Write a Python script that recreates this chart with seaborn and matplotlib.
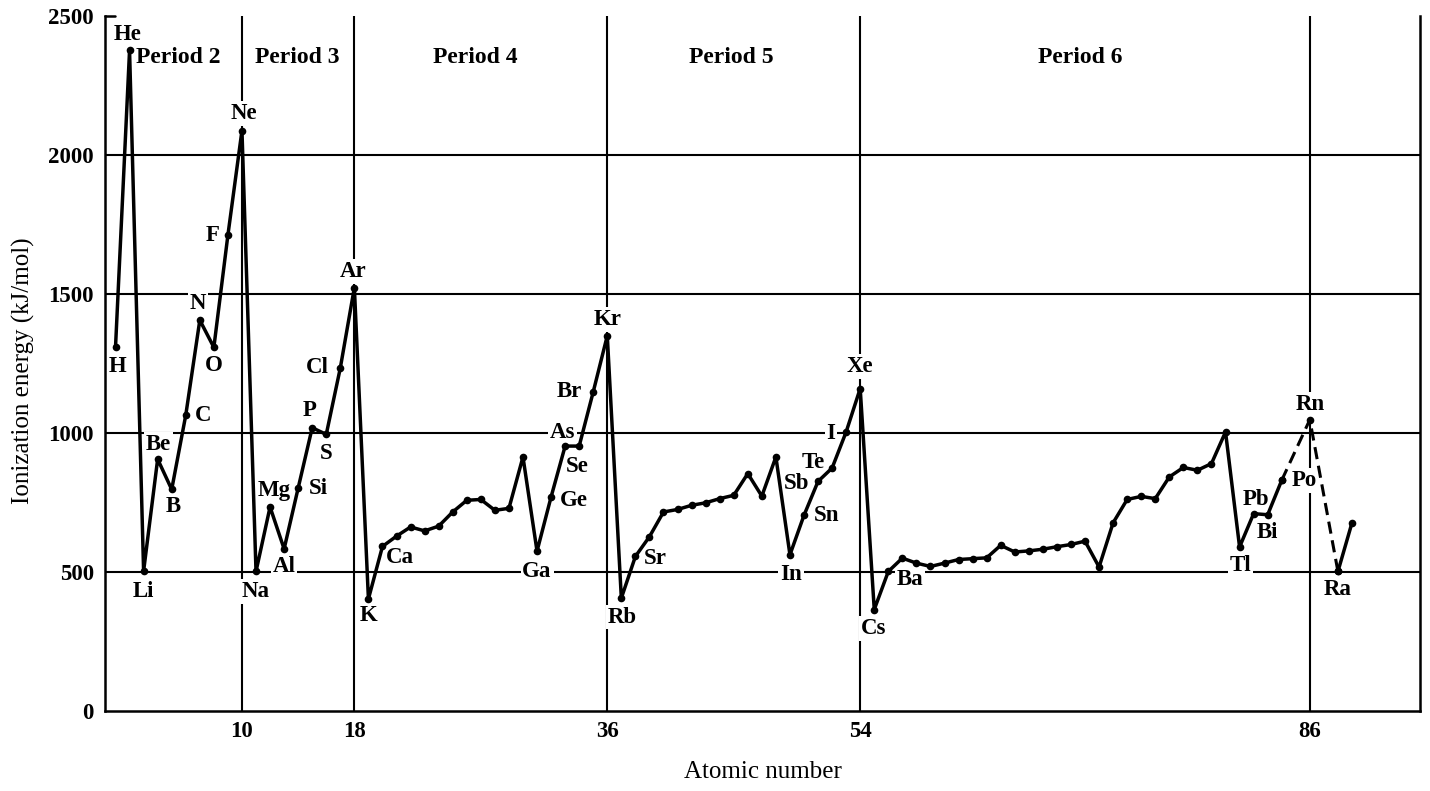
import pandas as pd
import matplotlib.pyplot as plt
import seaborn as sns

# Values (kJ/mol)
atomic_number = [1, 2, 3, 4, 5, 6, 7, 8, 9, 10,
                 11, 12, 13, 14, 15, 16, 17, 18,
                 19, 20, 21, 22, 23, 24, 25, 26, 27, 28, 29, 30, 31, 32, 33, 34, 35, 36,
                 37, 38, 39, 40, 41, 42, 43, 44, 45, 46, 47, 48, 49, 50, 51, 52, 53, 54,
                 55, 56, 57, 58, 59, 60, 61, 62, 63, 64, 65, 66, 67, 68, 69, 70, 71,
                 72, 73, 74, 75, 76, 77, 78, 79, 80, 81, 82, 83, 84, 86, 88, 89]
symbols = ['H', 'He', 'Li', 'Be', 'B', 'C', 'N', 'O', 'F', 'Ne',
           'Na', 'Mg', 'Al', 'Si', 'P', 'S', 'Cl', 'Ar',
           'K', 'Ca', 'Sc', 'Ti', 'V', 'Cr', 'Mn', 'Fe', 'Co', 'Ni', 'Cu', 'Zn', 'Ga', 'Ge', 'As', 'Se', 'Br', 'Kr',
           'Rb', 'Sr', 'Y', 'Zr', 'Nb', 'Mo', 'Tc', 'Ru', 'Rh', 'Pd', 'Ag', 'Cd', 'In', 'Sn', 'Sb', 'Te', 'I', 'Xe',
           'Cs', 'Ba', 'La', 'Ce', 'Pr', 'Nd', 'Pm', 'Sm', 'Eu', 'Gd', 'Tb', 'Dy', 'Ho', 'Er', 'Tm', 'Yb', 'Lu',
           'Hf', 'Ta', 'W', 'Re', 'Os', 'Ir', 'Pt', 'Au', 'Hg', 'Tl', 'Pb', 'Bi', 'Po', 'Rn', 'Ra', 'Ac']
ionization_energy = [1308, 2376, 503, 906, 797, 1064, 1406, 1308, 1712, 2088,
                     502, 734, 583, 802, 1019, 995, 1234, 1523,
                     403, 592, 629, 662, 648, 665, 716, 758, 761, 722, 729, 914, 575, 770, 953, 953, 1148, 1350,
                     406, 556, 627, 716, 725, 740, 749, 764, 776, 854, 773, 914, 562, 704, 826, 874, 1004, 1160,
                     365, 502, 550, 532, 520, 532, 545, 548, 551, 596, 572, 576, 582, 591, 599, 611, 518,
                     677, 761, 772, 764, 842, 876, 866, 890, 1004, 590, 710, 706, 830, 1048, 502, 677]

dashed_numbers = [84, 86, 88]   # At and Fr missing -> dashed
tail_numbers = [88, 89]

period_names = ['Period 2', 'Period 3', 'Period 4', 'Period 5', 'Period 6']
period_centers = [5.44, 13.93, 26.6, 44.85, 69.65]

noble_gas_numbers = [10, 18, 36, 54, 86]
grid_levels = [500, 1000, 1500, 2000]
y_ticks = [0, 500, 1000, 1500, 2000, 2500]

# label offsets from the point, in pixels (dx, dy)
label_offsets = {
    'H': (2, -19), 'He': (-2, 16), 'Li': (0, -20), 'Be': (1, 15), 'B': (2, -17),
    'C': (17, 0), 'N': (-2, 17), 'O': (0, -18), 'F': (-15, 0), 'Ne': (2, 17),
    'Na': (0, -20), 'Mg': (4, 16), 'Al': (0, -18), 'Si': (20, 0), 'P': (-3, 17),
    'S': (0, -19), 'Cl': (-23, 0), 'Ar': (-1, 16),
    'K': (0, -17), 'Ca': (17, -11), 'Ga': (0, -20), 'Ge': (23, -4), 'As': (-3, 14),
    'Se': (-2, -20), 'Br': (-24, 0), 'Kr': (0, 16),
    'Rb': (1, -19), 'Sr': (20, -2), 'In': (1, -20), 'Sn': (23, 0), 'Sb': (-21, -2),
    'Te': (-19, 6), 'I': (-15, -2), 'Xe': (0, 22),
    'Cs': (-1, -19), 'Ba': (22, -8), 'Tl': (1, -19), 'Pb': (2, 14), 'Bi': (0, -18),
    'Po': (23, 0), 'Rn': (0, 15), 'Ra': (0, -18),
}

df = pd.DataFrame({'Z': atomic_number, 'symbol': symbols, 'IE': ionization_energy})

sns.set_style('white')
plt.rcParams['font.family'] = ['Liberation Serif', 'DejaVu Serif']
plt.rcParams['text.color'] = 'black'
plt.rcParams['axes.labelcolor'] = 'black'
plt.rcParams['xtick.color'] = 'black'
plt.rcParams['ytick.color'] = 'black'

fig = plt.figure(figsize=(14.3, 7.91), dpi=100)
ax = fig.add_axes([0.0734, 0.1011, 0.9196, 0.8787])

main = df[df['Z'] <= 84]
dashed = df[df['Z'].isin(dashed_numbers)]
tail = df[df['Z'].isin(tail_numbers)]

line_kw = dict(color='black', marker='o', markersize=5.5, markeredgewidth=0, sort=False, zorder=4)
sns.lineplot(data=main, x='Z', y='IE', ax=ax, lw=2.5, **line_kw)
sns.lineplot(data=dashed, x='Z', y='IE', ax=ax, lw=2.2, linestyle=(0, (4, 2.2)), **line_kw)
sns.lineplot(data=tail, x='Z', y='IE', ax=ax, lw=2.5, **line_kw)

# grid
for lv in grid_levels:
    ax.axhline(lv, color='black', lw=1.5, zorder=1)
for z in noble_gas_numbers:
    ax.axvline(z, color='black', lw=1.5, zorder=1)
ax.axhline(2500, xmin=0, xmax=0.008, color='black', lw=1.8, clip_on=False)

# element labels
for sym, (dx, dy) in label_offsets.items():
    row = df[df['symbol'] == sym].iloc[0]
    ax.annotate(sym, (row['Z'], row['IE']), xytext=(dx, dy), textcoords='offset pixels',
                ha='center', va='center', fontsize=16.5, fontweight='bold',
                bbox=dict(boxstyle='square,pad=0.08', fc='white', ec='none'), zorder=3)

for name, c in zip(period_names, period_centers):
    ax.text(c, 2350, name, ha='center', va='center', fontsize=17, fontweight='bold', zorder=3)

ax.set_xlim(0.25, 93.84)
ax.set_ylim(0, 2500)
ax.set_xticks(noble_gas_numbers)
ax.set_yticks(y_ticks)
ax.tick_params(length=0, labelsize=16.5)
ax.tick_params(axis='y', pad=8)
ax.tick_params(axis='x', pad=7)
for lbl in ax.get_xticklabels() + ax.get_yticklabels():
    lbl.set_fontweight('bold')

ax.set_xlabel('Atomic number', fontsize=18)
ax.set_ylabel('Ionization energy (kJ/mol)', fontsize=18)
ax.xaxis.set_label_coords(0.5, -0.072)
ax.yaxis.set_label_coords(-0.053, 0.49)

ax.spines['top'].set_visible(False)
for s in ['left', 'right', 'bottom']:
    ax.spines[s].set_color('black')
    ax.spines[s].set_linewidth(1.8)

fig.savefig('out.png', dpi=100)
